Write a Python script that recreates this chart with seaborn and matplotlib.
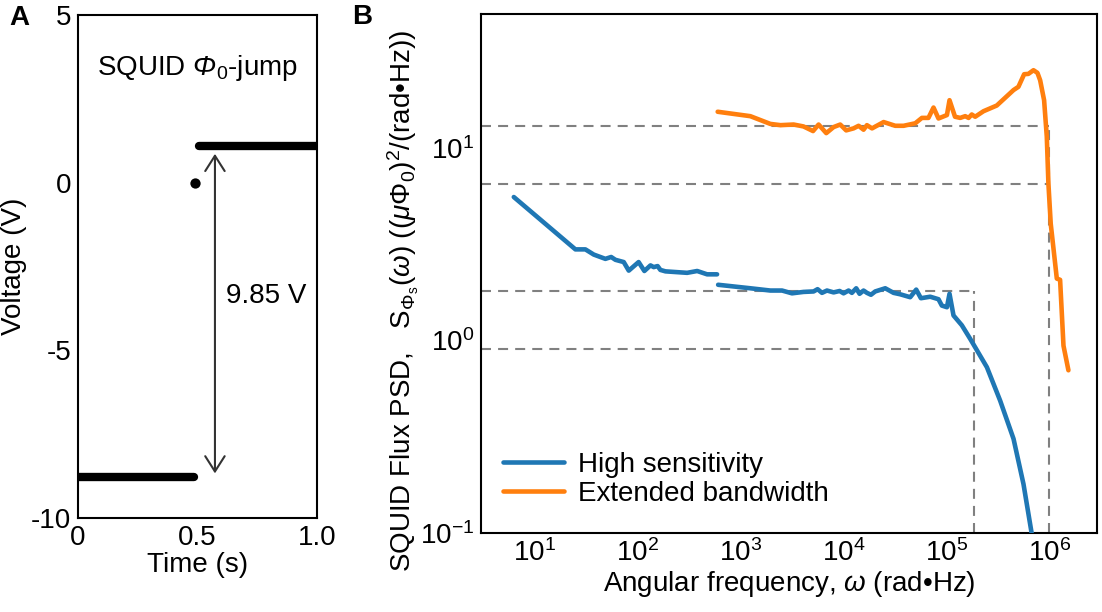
import numpy as np
import pandas as pd
import matplotlib
matplotlib.use("Agg")
import matplotlib.pyplot as plt
import seaborn as sns
from matplotlib.lines import Line2D

# ---------------- Panel A data ----------------
low_time = [0.0, 0.487]
low_volt = [-8.77, -8.77]
high_time = [0.505, 1.0]
high_volt = [1.08, 1.08]
mid_time = [0.49]
mid_volt = [0.0]
jump_label = "9.85 V"
a_xticks = [0, 0.5, 1.0]
a_xticklabels = ["0", "0.5", "1.0"]
a_yticks = [5, 0, -5, -10]
a_yticklabels = ["5", "0", "-5", "-10"]

# ---------------- Panel B data ----------------
hs1_omega = [6.25, 24.8, 31, 37.4, 48.5, 55.2, 60.7, 73.1, 81.8, 102, 116, 133, 143,
             156, 166, 186, 302, 378, 472, 590]
hs1_psd = [5.58, 2.98, 2.98, 2.80, 2.66, 2.72, 2.63, 2.56, 2.31, 2.56, 2.30, 2.46, 2.41,
           2.44, 2.33, 2.29, 2.25, 2.30, 2.21, 2.21]
hs2_omega = [604, 1242, 1942, 2524, 3155, 4077, 5113, 5590, 6170, 6900, 8000, 9150, 10000,
             11190, 12050, 13270, 14300, 15630, 16860, 18450, 20300, 25400, 30600, 35500,
             44400, 50800, 56400, 69500, 83600, 90100, 101000, 107000, 117000, 141000,
             170000, 247000, 332000, 448000, 560000, 675000]
hs2_psd = [1.95, 1.87, 1.82, 1.82, 1.76, 1.79, 1.80, 1.85, 1.77, 1.82, 1.78, 1.81, 1.76,
           1.82, 1.77, 1.87, 1.75, 1.82, 1.77, 1.73, 1.80, 1.87, 1.77, 1.74, 1.68, 1.84,
           1.66, 1.69, 1.64, 1.52, 1.49, 1.75, 1.35, 1.20, 1.02, 0.726, 0.487, 0.308,
           0.179, 0.098]
eb_omega = [598, 1242, 1942, 2440, 3270, 4077, 5050, 5720, 6790, 8000, 9280, 10600, 12500,
            14000, 15630, 16860, 18900, 24500, 31800, 38300, 49700, 57700, 66800, 74800,
            83600, 101000, 107000, 121000, 136000, 152000, 164000, 176000, 190000, 229000,
            308000, 448000, 500000, 568000, 625000, 700000, 765000, 813000, 888000, 943000,
            978000, 1030000, 1180000, 1270000, 1370000, 1530000]
eb_psd = [15.5, 14.7, 13.4, 13.2, 13.3, 13.0, 12.3, 13.3, 12.0, 12.9, 13.3, 12.4, 12.7,
          13.1, 12.5, 13.2, 12.7, 13.7, 13.1, 13.1, 13.5, 14.4, 14.4, 16.3, 14.3, 14.9,
          17.8, 14.6, 14.4, 14.7, 14.4, 15.0, 14.6, 15.6, 16.7, 20.1, 20.9, 24.3, 24.4,
          25.5, 24.7, 22.6, 17.8, 11.5, 6.55, 4.05, 2.10, 2.07, 0.94, 0.70]
series_names = ["High sensitivity", "Extended bandwidth"]
series_colors = ["#1f77b4", "#ff7f0e"]
h_levels = [13.0, 6.5, 1.8, 0.9]
h_ends = [1.0e6, 1.0e6, 1.87e5, 1.87e5]
v_pos = [1.87e5, 1.0e6]
v_tops = [1.8, 13.0]

# ---------------- style ----------------
sns.set_style("white")
FS = 20
plt.rcParams["font.family"] = ["Liberation Sans", "DejaVu Sans"]
plt.rcParams["mathtext.fontset"] = "custom"
plt.rcParams["mathtext.rm"] = "Liberation Sans"
plt.rcParams["mathtext.it"] = "Liberation Sans:italic"
plt.rcParams["mathtext.bf"] = "Liberation Sans:bold"
plt.rcParams["mathtext.cal"] = "Liberation Sans:italic"
plt.rcParams["axes.unicode_minus"] = False
plt.rcParams["font.size"] = FS
for key in ["text.color", "axes.labelcolor", "xtick.color", "ytick.color", "axes.edgecolor"]:
    plt.rcParams[key] = "black"

W, H = 1102, 612
fig = plt.figure(figsize=(W / 100, H / 100), dpi=100)
axA = fig.add_axes([78 / W, (H - 518) / H, 239 / W, 503 / H])
axB = fig.add_axes([481 / W, (H - 532.7) / H, 616 / W, 518.7 / H])

for ax in (axA, axB):
    for s in ax.spines.values():
        s.set_linewidth(1.5)
        s.set_color("black")
    ax.tick_params(direction="in", length=5, width=1.2, labelsize=FS, pad=5,
                   colors="black", which="major")

# ---------------- Panel A ----------------
sns.lineplot(x=low_time, y=low_volt, ax=axA, color="black", linewidth=6,
             solid_capstyle="round", estimator=None, sort=False)
sns.lineplot(x=high_time, y=high_volt, ax=axA, color="black", linewidth=6,
             solid_capstyle="round", estimator=None, sort=False)
sns.scatterplot(x=mid_time, y=mid_volt, ax=axA, color="black", s=55, linewidth=0)
axA.annotate("", xy=(0.573, 0.86), xytext=(0.573, -8.67),
             arrowprops=dict(arrowstyle="<->,head_length=0.55,head_width=0.35",
                             color="#333333", lw=1.5, mutation_scale=20,
                             shrinkA=0, shrinkB=0))
axA.text(0.787, -3.37, jump_label, ha="center", va="center", fontsize=FS)
axA.text(0.5, 3.43, r"SQUID $\mathcal{\Phi}_0$-jump", ha="center", va="center", fontsize=FS)
axA.set_xlim(0, 1)
axA.set_ylim(-10, 5)
axA.set_xticks(a_xticks)
axA.set_xticklabels(a_xticklabels)
axA.set_yticks(a_yticks)
axA.set_yticklabels(a_yticklabels)
axA.set_xlabel("Time (s)", fontsize=FS, labelpad=1)
axA.set_ylabel("Voltage (V)", fontsize=FS, labelpad=3)

# ---------------- Panel B ----------------
axB.set_xscale("log")
axB.set_yscale("log")
df = pd.concat([
    pd.DataFrame({"omega": hs1_omega, "psd": hs1_psd, "series": series_names[0], "segment": "hs1"}),
    pd.DataFrame({"omega": hs2_omega, "psd": hs2_psd, "series": series_names[0], "segment": "hs2"}),
    pd.DataFrame({"omega": eb_omega, "psd": eb_psd, "series": series_names[1], "segment": "eb"}),
], ignore_index=True)

xmin, xmax = 3.0, 2.9e6
ymin, ymax = 0.1, 50
for lev, end in zip(h_levels, h_ends):
    axB.plot([xmin, end], [lev, lev], ls=(0, (4.8, 3.4)), color="#808080", lw=1.5, zorder=1)
for pos, top in zip(v_pos, v_tops):
    axB.plot([pos, pos], [ymin, top], ls=(0, (4.8, 3.4)), color="#808080", lw=1.5, zorder=1)

sns.lineplot(data=df, x="omega", y="psd", hue="series", units="segment", estimator=None,
             sort=False, palette=dict(zip(series_names, series_colors)), linewidth=3.3,
             ax=axB, legend=False, zorder=3)

axB.set_xlim(xmin, xmax)
axB.set_ylim(ymin, ymax)
axB.set_xticks([1e1, 1e2, 1e3, 1e4, 1e5, 1e6])
axB.set_yticks([1e-1, 1e0, 1e1])
axB.minorticks_off()
axB.set_xlabel(r"Angular frequency, $\omega$ (rad•Hz)", fontsize=FS, labelpad=1)
axB.set_ylabel(r"SQUID Flux PSD,   $\mathrm{S}_{\Phi_{\rm s}}(\omega)$ $((\mu\Phi_0)^2$/(rad•Hz))",
               fontsize=FS)
axB.yaxis.set_label_coords(-0.098, 0.446)

handles = [Line2D([], [], color=c, lw=3.3) for c in series_colors]
axB.legend(handles, series_names, loc="lower left", bbox_to_anchor=(0.036, 0.05),
           frameon=False, fontsize=FS, handlelength=2.2, handletextpad=0.5,
           borderpad=0, borderaxespad=0, labelspacing=0.1)

fig.text(19 / W, 1 - 18 / H, "A", fontsize=20, fontweight="bold", ha="center", va="center")
fig.text(362 / W, 1 - 17 / H, "B", fontsize=20, fontweight="bold", ha="center", va="center")

fig.savefig("out.png", dpi=100)
